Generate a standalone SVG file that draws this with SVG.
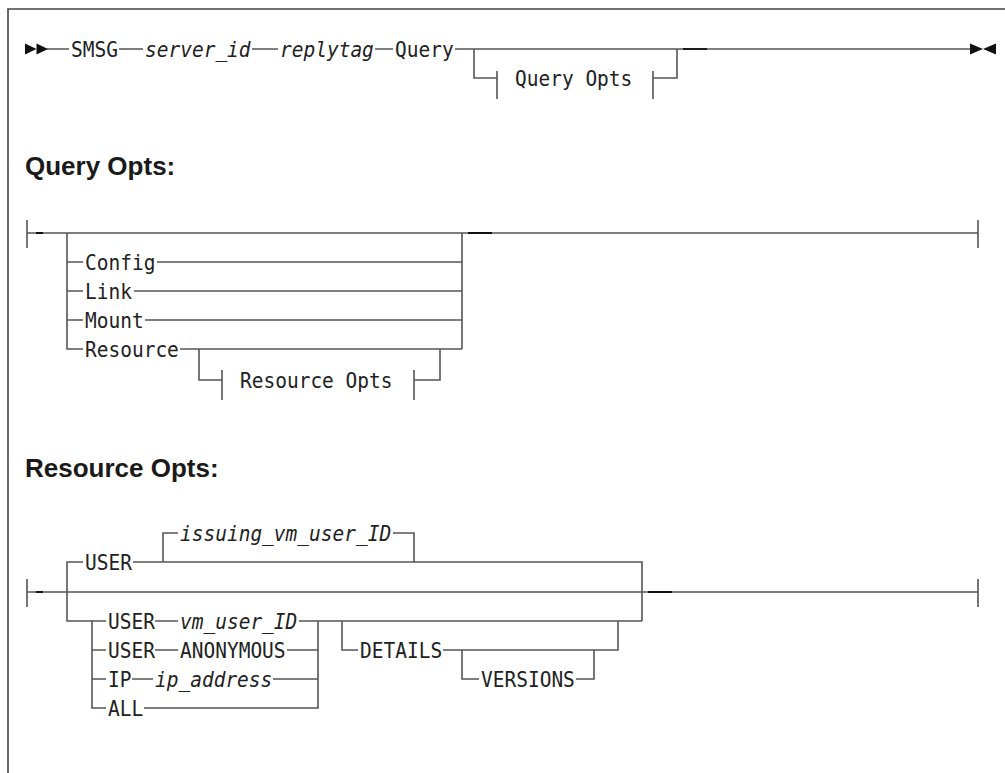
<svg xmlns="http://www.w3.org/2000/svg" width="1005" height="773" viewBox="0 0 1005 773">
<style>
.t{font-family:"DejaVu Sans Mono","Liberation Mono",monospace;font-size:19.5px;fill:#222;transform-box:fill-box;transform-origin:50% 50%;transform:scaleY(1.12)}
.i{font-style:italic}
.h{font-family:"Liberation Sans",Arial,sans-serif;font-size:26px;font-weight:bold;fill:#1a1a1a}
.c{fill:none;stroke:#555;stroke-width:1.6}
.d{fill:none;stroke:#111;stroke-width:1.8}
.k{fill:#111}
</style>
<rect width="1005" height="773" fill="#fff"/>
<path d="M8,773 V9 H1005" fill="none" stroke="#444" stroke-width="1.6"/>

<g id="connectors">
  <!-- main statement -->
  <path class="c" d="M47,49 H69 M119,49 H143 M252,49 H278 M375,49 H393 M455,49 H970"/>
  <path class="c" d="M474,49 V78 H497 M497,71 V99 M653,71 V99 M653,78 H677 V49"/>
  <path class="d" d="M683,49 H707"/>
  <!-- Query Opts fragment -->
  <path class="c" d="M27,220 V248 M27,233 H978 M978,220 V248"/>
  <path class="d" d="M36,233 H43 M468,233 H492"/>
  <path class="c" d="M67,233 V349 H83 M67,262 H83 M67,291 H83 M67,320 H83"/>
  <path class="c" d="M157,262 H462 M134,291 H462 M145,320 H462 M180,349 H462 M462,233 V349"/>
  <path class="c" d="M199,349 V380 H222 M222,370 V400 M414,370 V400 M414,380 H440 V349"/>
  <!-- Resource Opts fragment -->
  <path class="c" d="M27,579 V607 M27,592 H978 M978,579 V607"/>
  <path class="d" d="M36,592 H43 M648,592 H672"/>
  <path class="c" d="M83,562 H67 V621 H106 M133,562 H642 V621 M163,562 V533 H178 M393,533 H414 V562"/>
  <path class="c" d="M155,621 H178 M299,621 H642"/>
  <path class="c" d="M92,621 V708 H106 M92,650 H106 M92,679 H106 M318,621 V708 H144"/>
  <path class="c" d="M155,650 H178 M287,650 H318 M132,679 H153 M273,679 H318"/>
  <path class="c" d="M342,621 V650 H358 M443,650 H618 V621"/>
  <path class="c" d="M462,650 V679 H479 M576,679 H594 V650"/>
</g>

<g id="start"><polygon class="k" points="25,43.5 36.5,49 25,54.5"/><polygon class="k" points="36.5,43.5 48,49 36.5,54.5"/></g>
<g id="end"><polygon class="k" points="970,43.5 983,49 970,54.5"/><polygon class="k" points="996,43.5 983,49 996,54.5"/></g>

<g id="n-smsg"><text class="t" x="71" y="56">SMSG</text></g>
<g id="n-server"><text class="t i" x="145" y="56">server_id</text></g>
<g id="n-replytag"><text class="t i" x="280" y="56">replytag</text></g>
<g id="n-query"><text class="t" x="395" y="56">Query</text></g>
<g id="n-queryopts-ref"><text class="t" x="515" y="85">Query Opts</text></g>

<g id="h-queryopts"><text class="h" x="25" y="175">Query Opts:</text></g>
<g id="n-config"><text class="t" x="85" y="269">Config</text></g>
<g id="n-link"><text class="t" x="85" y="298">Link</text></g>
<g id="n-mount"><text class="t" x="85" y="327">Mount</text></g>
<g id="n-resource"><text class="t" x="85" y="356">Resource</text></g>
<g id="n-resopts-ref"><text class="t" x="240" y="387">Resource Opts</text></g>

<g id="h-resopts"><text class="h" x="25" y="477">Resource Opts:</text></g>
<g id="n-user1"><text class="t" x="85" y="569">USER</text></g>
<g id="n-issuing"><text class="t i" x="180" y="540">issuing_vm_user_ID</text></g>
<g id="n-user2"><text class="t" x="108" y="628">USER</text></g>
<g id="n-vmuser"><text class="t i" x="180" y="628">vm_user_ID</text></g>
<g id="n-user3"><text class="t" x="108" y="657">USER</text></g>
<g id="n-anon"><text class="t" x="180" y="657">ANONYMOUS</text></g>
<g id="n-ip"><text class="t" x="108" y="686">IP</text></g>
<g id="n-ipaddr"><text class="t i" x="155" y="686">ip_address</text></g>
<g id="n-all"><text class="t" x="108" y="715">ALL</text></g>
<g id="n-details"><text class="t" x="360" y="657">DETAILS</text></g>
<g id="n-versions"><text class="t" x="481" y="686">VERSIONS</text></g>
</svg>
